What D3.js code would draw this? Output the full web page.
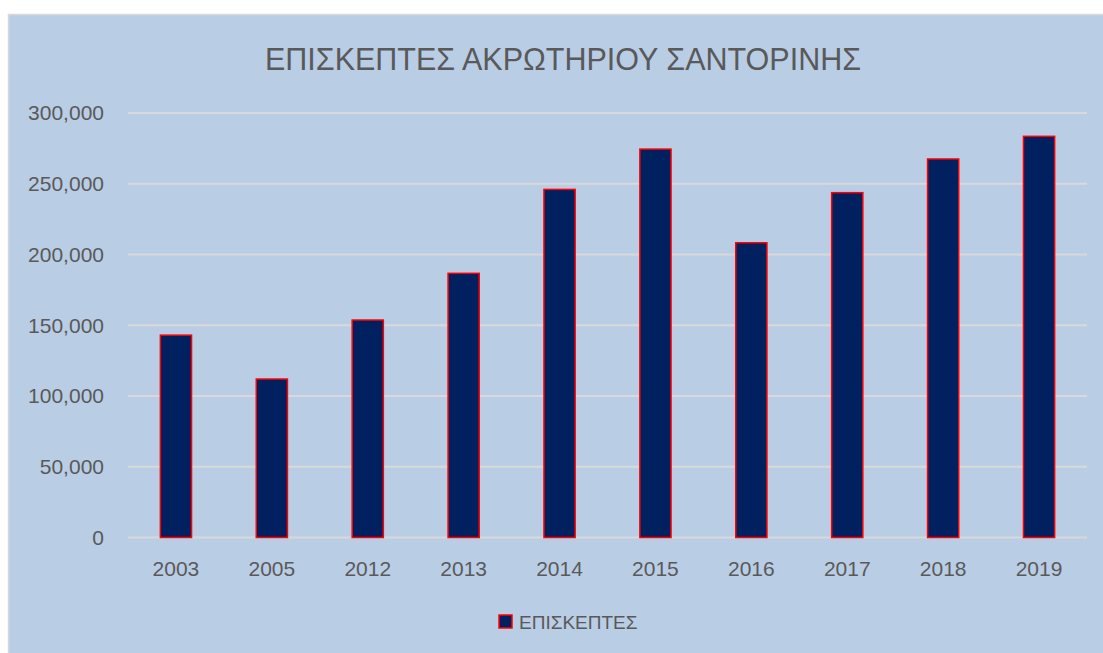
<!DOCTYPE html>
<html><head><meta charset="utf-8">
<script src="https://cdn.jsdelivr.net/npm/d3@7"></script>
<style>
html,body{margin:0;padding:0;background:#fff;}
svg{display:block;}
</style></head>
<body>
<svg id="c" width="1103" height="653"></svg>
<script>
const title = "ΕΠΙΣΚΕΠΤΕΣ ΑΚΡΩΤΗΡΙΟΥ ΣΑΝΤΟΡΙΝΗΣ";
const seriesName = "ΕΠΙΣΚΕΠΤΕΣ";
const categories = ["2003","2005","2012","2013","2014","2015","2016","2017","2018","2019"];
const values = [143000, 112000, 153700, 186700, 246000, 274500, 208300, 243700, 267500, 283500];
const yTicks = [0, 50000, 100000, 150000, 200000, 250000, 300000];

const svg = d3.select("#c");
const font = "'Liberation Sans', Arial, sans-serif";
const textColor = "#595959";

// chart area
svg.append("rect").attr("x", 8.5).attr("y", 14.5).attr("width", 1110).attr("height", 650)
  .attr("fill", "#b9cde5").attr("stroke", "#d9d9d9").attr("stroke-width", 1.5);

const x = d3.scaleBand().domain(categories).range([128, 1087]).paddingInner(0.675).paddingOuter(0.3375);
const y = d3.scaleLinear().domain([0, 300000]).range([537.5, 113]);

// gridlines
svg.append("g").selectAll("line").data(yTicks).join("line")
  .attr("x1", 128).attr("x2", 1087)
  .attr("y1", d => y(d)).attr("y2", d => y(d))
  .attr("stroke", "#d9d9d9").attr("stroke-width", 2);

// y labels
const fmt = d3.format(",");
svg.append("g").selectAll("text").data(yTicks).join("text")
  .attr("x", 104).attr("y", d => y(d)).attr("dy", "0.35em")
  .attr("text-anchor", "end").attr("font-family", font).attr("font-size", 21)
  .attr("fill", textColor).text(d => fmt(d));

// bars
svg.append("g").selectAll("rect").data(values).join("rect")
  .attr("x", (d, i) => x(categories[i]))
  .attr("y", d => y(d))
  .attr("width", x.bandwidth())
  .attr("height", d => y(0) - y(d))
  .attr("fill", "#002060").attr("stroke", "#ff0000").attr("stroke-width", 1.5);

// x labels
svg.append("g").selectAll("text").data(categories).join("text")
  .attr("x", d => x(d) + x.bandwidth() / 2).attr("y", 576)
  .attr("text-anchor", "middle").attr("font-family", font).attr("font-size", 21)
  .attr("fill", textColor).text(d => d);

// title
svg.append("text").attr("x", 563).attr("y", 70).attr("text-anchor", "middle")
  .attr("font-family", font).attr("font-size", 30.5).attr("fill", textColor).text(title);

// legend
const lg = svg.append("g");
lg.append("rect").attr("x", 499).attr("y", 615).attr("width", 13).attr("height", 13)
  .attr("fill", "#002060").attr("stroke", "#ff0000").attr("stroke-width", 1.5);
lg.append("text").attr("x", 519).attr("y", 629).attr("font-family", font).attr("font-size", 19)
  .attr("fill", textColor).text(seriesName);
</script>
</body></html>
